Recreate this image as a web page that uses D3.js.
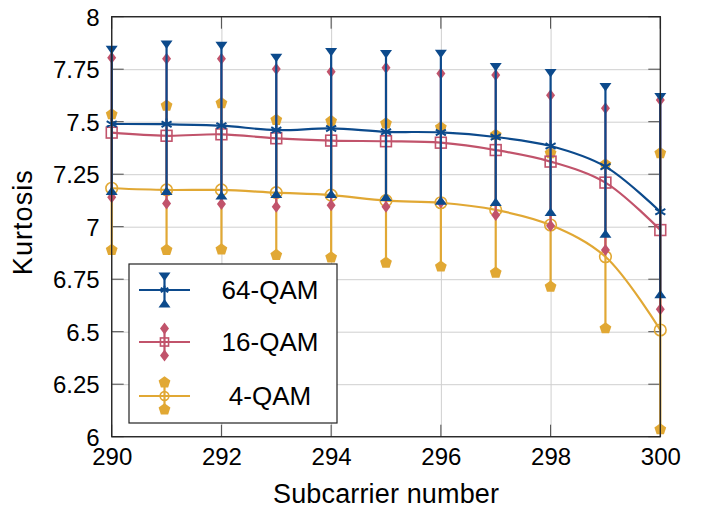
<!DOCTYPE html>
<html>
<head>
<meta charset="utf-8">
<script src="https://cdn.jsdelivr.net/npm/d3@7"></script>
<style>
  body { margin: 0; background: #fff; }
</style>
</head>
<body>
<svg id="chart" width="709" height="508"></svg>
<script>
// values
var subcarrier = [290, 291, 292, 293, 294, 295, 296, 297, 298, 299, 300];

var qam64Mean  = [7.489, 7.488, 7.481, 7.460, 7.468, 7.452, 7.449, 7.427, 7.384, 7.286, 7.071];
var qam64Upper = [7.843, 7.868, 7.862, 7.805, 7.832, 7.822, 7.824, 7.760, 7.732, 7.665, 7.618];
var qam64Lower = [7.170, 7.170, 7.148, 7.156, 7.156, 7.141, 7.124, 7.118, 7.070, 6.967, 6.678];

var qam16Mean  = [7.448, 7.433, 7.440, 7.421, 7.410, 7.407, 7.400, 7.365, 7.310, 7.210, 6.984];
var qam16Upper = [7.805, 7.800, 7.800, 7.751, 7.738, 7.757, 7.730, 7.722, 7.626, 7.564, 7.603];
var qam16Lower = [7.140, 7.111, 7.108, 7.095, 7.102, 7.095, 7.115, 7.056, 7.005, 6.889, 6.607];

var qam4Mean  = [7.183, 7.175, 7.175, 7.162, 7.150, 7.124, 7.114, 7.080, 7.008, 6.857, 6.508];
var qam4Upper = [7.535, 7.576, 7.588, 7.508, 7.503, 7.492, 7.473, 7.437, 7.350, 7.297, 7.350];
var qam4Lower = [6.889, 6.889, 6.892, 6.865, 6.854, 6.829, 6.810, 6.781, 6.714, 6.516, 6.035];

var xTicks = [290, 292, 294, 296, 298, 300];
var yTicks = [6, 6.25, 6.5, 6.75, 7, 7.25, 7.5, 7.75, 8];
var seriesNames = ['64-QAM', '16-QAM', '4-QAM'];

var blue = '#0c4a8c', red = '#c1536b', yellow = '#e1a834';
var font = '"Liberation Sans", Arial, sans-serif';

var svg = d3.select('#chart');
var pL = 111.7, pR = 660.3, pT = 16.7, pB = 436.7;
var pw = pR - pL, ph = pB - pT;

var x = d3.scaleLinear().domain([290, 300]).range([pL, pR]);
var y = d3.scaleLinear().domain([6, 8]).range([pB, pT]);

// grid
var grid = svg.append('g').attr('class', 'grid');
grid.append('g')
    .attr('transform', 'translate(0,' + pB + ')')
    .call(d3.axisBottom(x).tickValues(xTicks).tickSize(-ph).tickFormat(''))
    .call(function(g){ g.select('.domain').remove(); })
    .selectAll('.tick line').attr('stroke', '#cfcfcf').attr('stroke-width', 1);
grid.append('g')
    .attr('transform', 'translate(' + pL + ',0)')
    .call(d3.axisLeft(y).tickValues(yTicks).tickSize(-pw).tickFormat(''))
    .call(function(g){ g.select('.domain').remove(); })
    .selectAll('.tick line').attr('stroke', '#cfcfcf').attr('stroke-width', 1);

// inner tick marks on all sides
var tl = 12;
var ticks = svg.append('g').attr('stroke', '#4a4a4a').attr('stroke-width', 1);
xTicks.forEach(function(t){
  ticks.append('line').attr('x1', x(t)).attr('x2', x(t)).attr('y1', pB).attr('y2', pB - tl);
  ticks.append('line').attr('x1', x(t)).attr('x2', x(t)).attr('y1', pT).attr('y2', pT + tl);
});
yTicks.forEach(function(t){
  ticks.append('line').attr('y1', y(t)).attr('y2', y(t)).attr('x1', pL).attr('x2', pL + tl);
  ticks.append('line').attr('y1', y(t)).attr('y2', y(t)).attr('x1', pR).attr('x2', pR - tl);
});

// tick labels
svg.append('g')
    .attr('transform', 'translate(0,' + (pB + 7) + ')')
    .call(d3.axisBottom(x).tickValues(xTicks).tickSize(0).tickFormat(function(d){ return d; }))
    .attr('font-family', null).attr('font-size', null)
    .call(function(g){ g.select('.domain').remove(); })
    .selectAll('text').style('font-family', font).style('font-size', '24px').attr('fill', '#000').attr('dy', '0.75em');
svg.append('g')
    .attr('transform', 'translate(' + (pL - 12) + ',0)')
    .call(d3.axisLeft(y).tickValues(yTicks).tickSize(0).tickFormat(function(d){ return d; }))
    .attr('font-family', null).attr('font-size', null)
    .call(function(g){ g.select('.domain').remove(); })
    .selectAll('text').style('font-family', font).style('font-size', '24px').attr('fill', '#000').attr('x', 0).attr('dy', '0.35em');

// axis labels
svg.append('text')
    .attr('transform', 'translate(32,' + ((pT + pB) / 2 - 4) + ') rotate(-90)')
    .attr('text-anchor', 'middle')
    .style('font-family', font).style('font-size', '27px')
    .attr('textLength', 105)
    .text('Kurtosis');
svg.append('text')
    .attr('x', (pL + pR) / 2).attr('y', 503)
    .attr('text-anchor', 'middle')
    .style('font-family', font).style('font-size', '27px')
    .attr('textLength', 226)
    .text('Subcarrier number');

// marker shapes
function triDown(cx, cy){ return 'M' + (cx - 6) + ',' + (cy - 4) + 'L' + (cx + 6) + ',' + (cy - 4) + 'L' + cx + ',' + (cy + 4.5) + 'Z'; }
function triUp(cx, cy){ return 'M' + (cx - 6) + ',' + (cy + 4) + 'L' + (cx + 6) + ',' + (cy + 4) + 'L' + cx + ',' + (cy - 4.5) + 'Z'; }
function diamond(cx, cy){ return 'M' + cx + ',' + (cy - 6) + 'L' + (cx + 4.5) + ',' + cy + 'L' + cx + ',' + (cy + 6) + 'L' + (cx - 4.5) + ',' + cy + 'Z'; }
function pentagon(cx, cy){
  var r = 6.2, p = [];
  for (var i = 0; i < 5; i++){
    var a = -Math.PI / 2 + i * 2 * Math.PI / 5;
    p.push((cx + r * Math.cos(a)) + ',' + (cy + r * Math.sin(a)));
  }
  return 'M' + p.join('L') + 'Z';
}
function star(cx, cy, r){
  var d = '';
  [90, 30, 150, 210, 330].forEach(function(deg){
    var a = deg * Math.PI / 180;
    d += 'M' + cx + ',' + cy + 'L' + (cx + r * Math.cos(a)) + ',' + (cy - r * Math.sin(a));
  });
  return d;
}

var line = d3.line().curve(d3.curveCatmullRom.alpha(0.5));

function drawSeries(mean, upper, lower, color, opts){
  var g = svg.append('g');
  var pts = subcarrier.map(function(s, i){ return [x(s), y(mean[i])]; });
  g.append('path').attr('d', line(pts)).attr('fill', 'none').attr('stroke', color).attr('stroke-width', 2.2);
  subcarrier.forEach(function(s, i){
    var cx = x(s);
    g.append('line').attr('x1', cx).attr('x2', cx).attr('y1', y(upper[i])).attr('y2', y(lower[i]))
        .attr('stroke', color).attr('stroke-width', 2.2);
    g.append('path').attr('d', opts.upMark(cx, y(upper[i]))).attr('fill', color);
    g.append('path').attr('d', opts.lowMark(cx, y(lower[i]))).attr('fill', color);
  });
  subcarrier.forEach(function(s, i){ opts.mark(g, x(s), y(mean[i]), 1); });
}

function markSquare(g, cx, cy, k){
  g.append('rect').attr('x', cx - 5.4 * k).attr('y', cy - 5.4 * k).attr('width', 10.8 * k).attr('height', 10.8 * k)
      .attr('fill', 'none').attr('stroke', red).attr('stroke-width', 1.6);
}
function markCircle(g, cx, cy, k){
  g.append('circle').attr('cx', cx).attr('cy', cy).attr('r', 5.8 * k)
      .attr('fill', 'none').attr('stroke', yellow).attr('stroke-width', 1.6);
}
function markStar(g, cx, cy, k){
  g.append('path').attr('d', star(cx, cy, 5.8 * k)).attr('fill', 'none').attr('stroke', blue).attr('stroke-width', 2);
}

var opt4 = { upMark: pentagon, lowMark: pentagon, mark: markCircle };
var opt16 = { upMark: diamond, lowMark: diamond, mark: markSquare };
var opt64 = { upMark: triDown, lowMark: triUp, mark: markStar };

drawSeries(qam4Mean, qam4Upper, qam4Lower, yellow, opt4);
drawSeries(qam16Mean, qam16Upper, qam16Lower, red, opt16);
drawSeries(qam64Mean, qam64Upper, qam64Lower, blue, opt64);

// frame
svg.append('rect').attr('x', pL).attr('y', pT).attr('width', pw).attr('height', ph)
    .attr('fill', 'none').attr('stroke', '#222').attr('stroke-width', 1.3);

// legend
var leg = svg.append('g');
leg.append('rect').attr('x', 129).attr('y', 264).attr('width', 208).attr('height', 159)
    .attr('fill', '#fff').attr('stroke', '#222').attr('stroke-width', 1.2);
var legRows = [
  { name: seriesNames[0], color: blue, opts: opt64, y: 290 },
  { name: seriesNames[1], color: red, opts: opt16, y: 342 },
  { name: seriesNames[2], color: yellow, opts: opt4, y: 396 }
];
legRows.forEach(function(r){
  var cx = 164.5;
  leg.append('line').attr('x1', 139).attr('x2', 190).attr('y1', r.y).attr('y2', r.y)
      .attr('stroke', r.color).attr('stroke-width', 2.2);
  leg.append('line').attr('x1', cx).attr('x2', cx).attr('y1', r.y - 13.5).attr('y2', r.y + 13.5)
      .attr('stroke', r.color).attr('stroke-width', 2.2);
  leg.append('path').attr('d', r.opts.upMark(cx, r.y - 13.5)).attr('fill', r.color);
  leg.append('path').attr('d', r.opts.lowMark(cx, r.y + 13.5)).attr('fill', r.color);
  r.opts.mark(leg, cx, r.y, 0.75);
  leg.append('text').attr('x', 270).attr('y', r.y).attr('dy', '0.36em')
      .attr('text-anchor', 'middle').style('font-family', font).style('font-size', '26px')
      .text(r.name);
});
</script>
</body>
</html>
